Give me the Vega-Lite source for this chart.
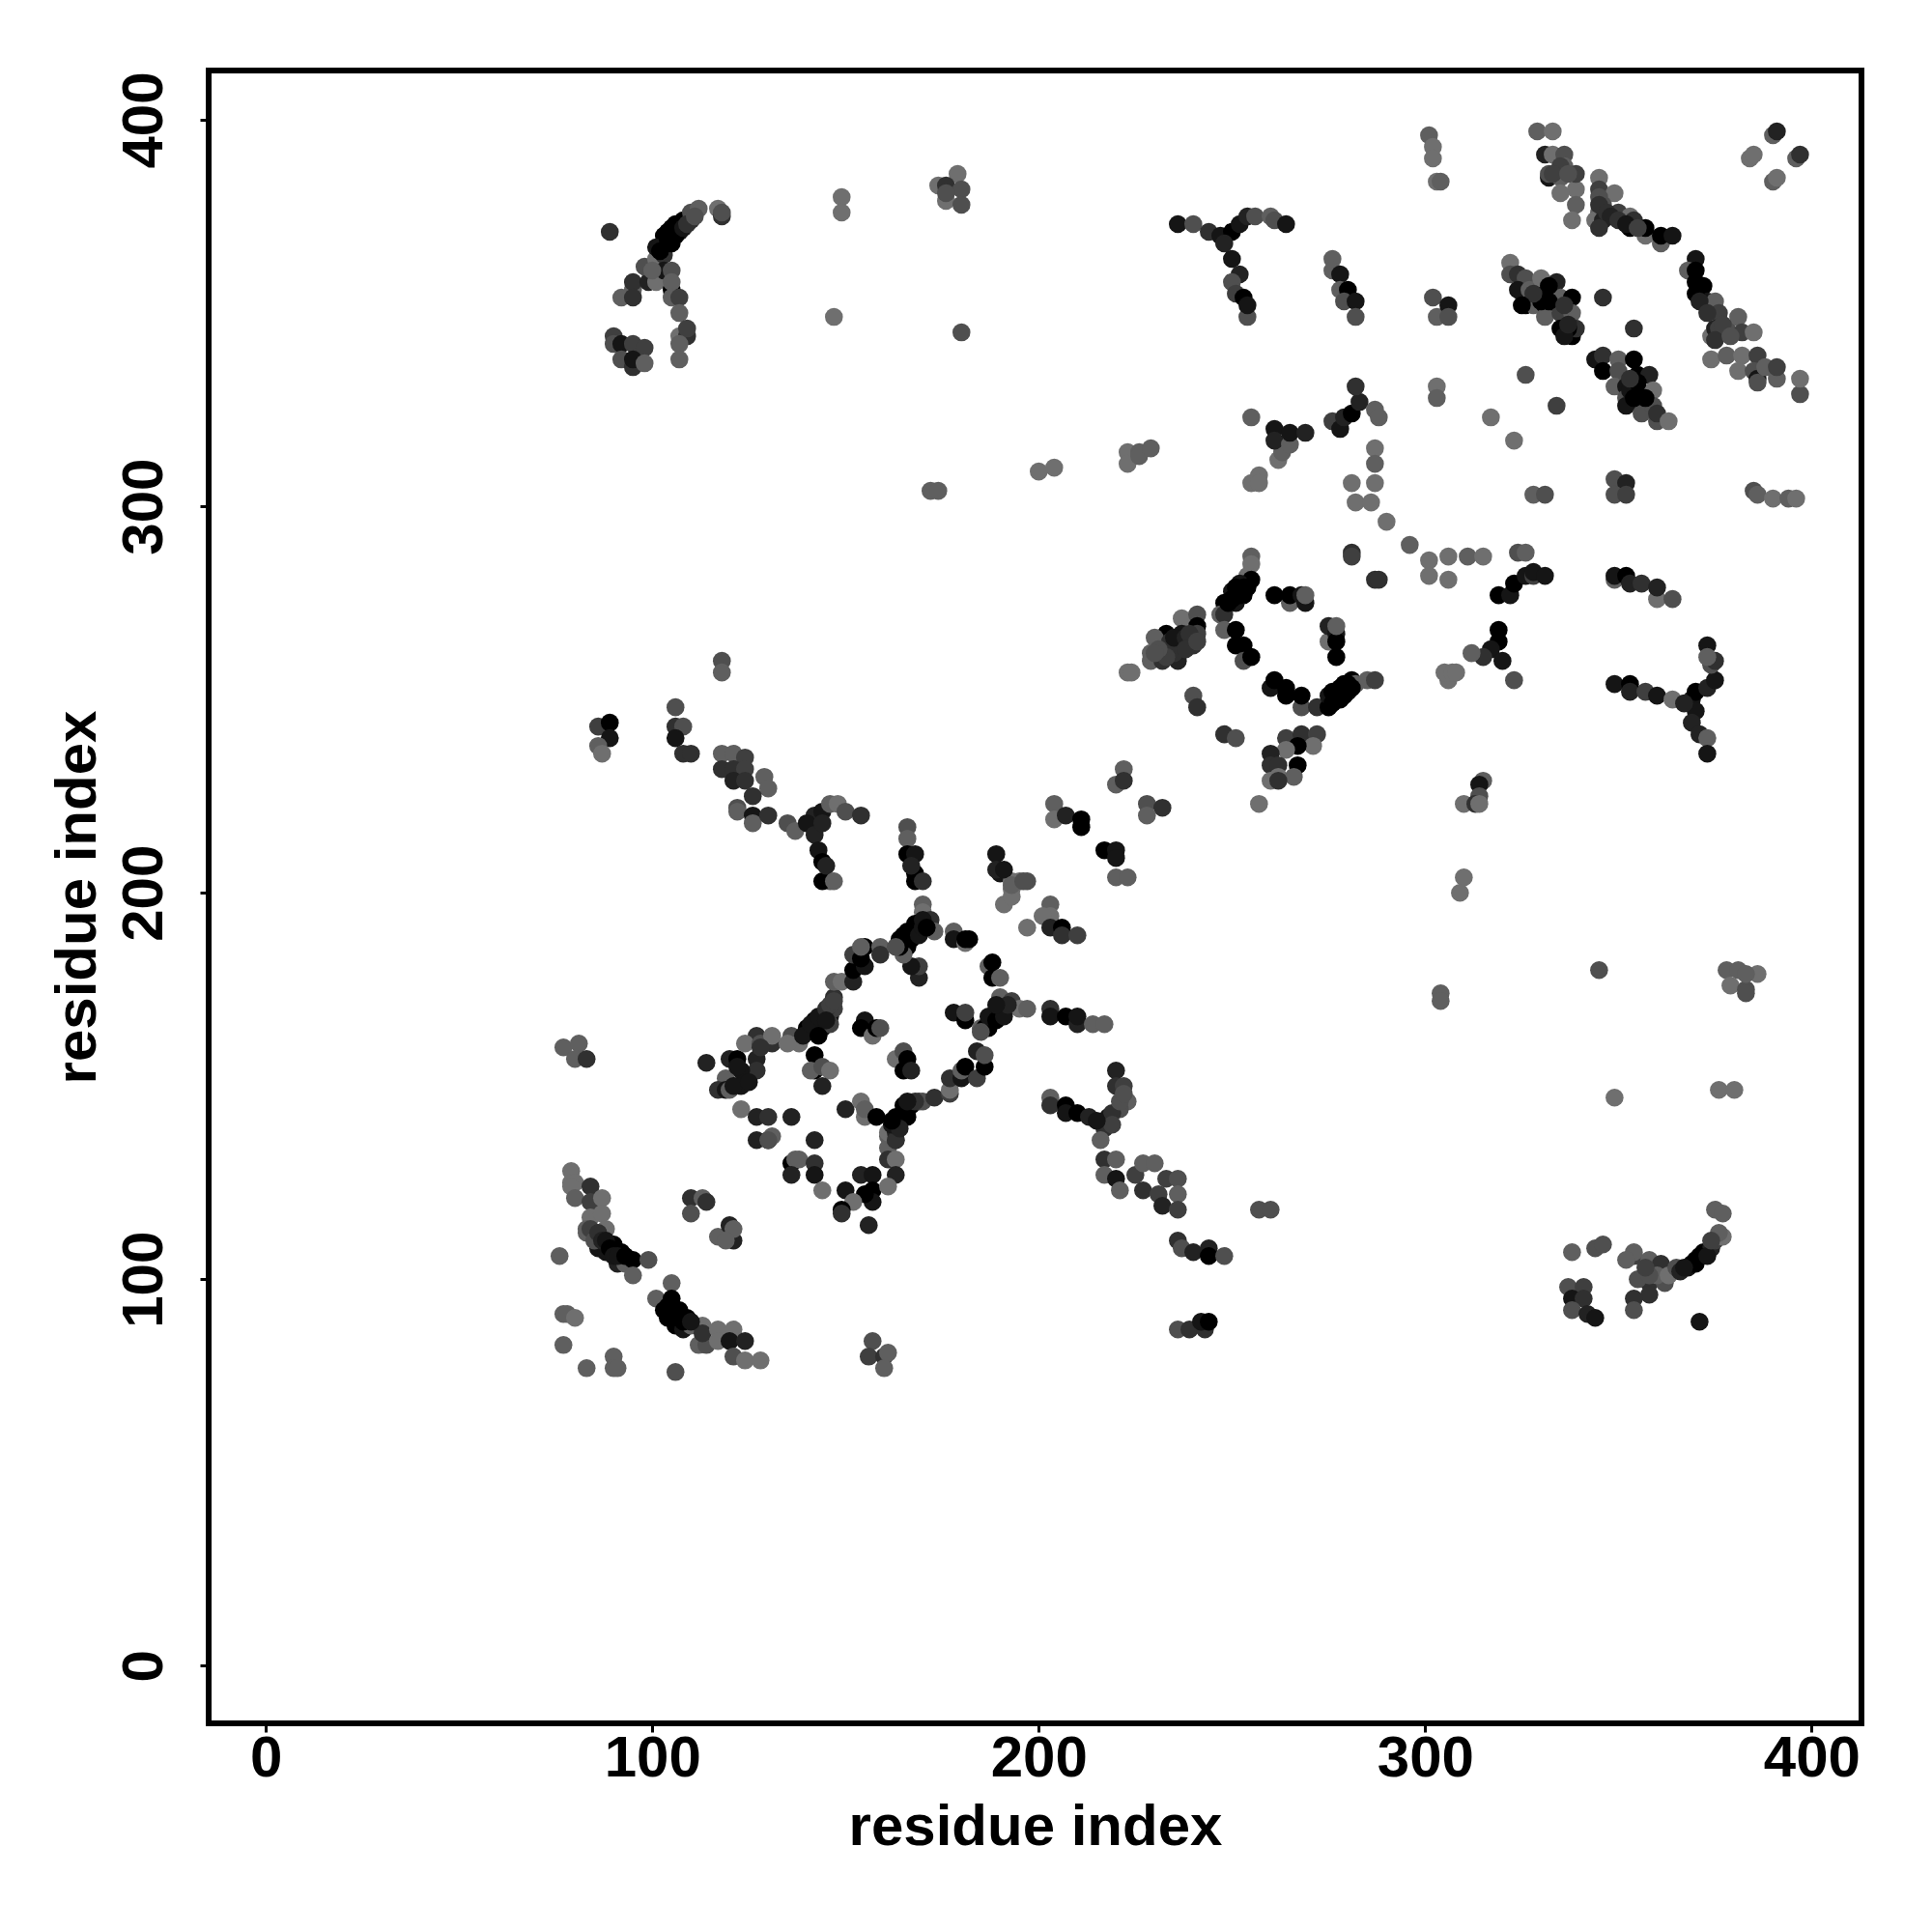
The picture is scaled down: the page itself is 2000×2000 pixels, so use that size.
{"$schema":"https://vega.github.io/schema/vega-lite/v6.json","width":1711,"height":1711,"autosize":"none","padding":{"left":216,"top":73,"right":73,"bottom":216},"background":"white","config":{"view":{"stroke":"black","strokeWidth":6,"fill":null}},
"data":{"values":[
{"x":76,"y":106,"s":6},{"x":79,"y":128,"s":7},{"x":79,"y":125,"s":7},{"x":80,"y":125,"s":7},{"x":79,"y":124,"s":7},{"x":80,"y":121,"s":6},{"x":84,"y":124,"s":3},{"x":84,"y":120,"s":4},{"x":87,"y":121,"s":7},{"x":84,"y":116,"s":7},{"x":87,"y":117,"s":7},{"x":83,"y":113,"s":6},{"x":83,"y":112,"s":6},{"x":84,"y":113,"s":4},{"x":88,"y":113,"s":7},{"x":86,"y":108,"s":1},{"x":88,"y":107,"s":1},{"x":90,"y":109,"s":0},{"x":92,"y":107,"s":0},{"x":91,"y":104,"s":2},{"x":93,"y":104,"s":6},{"x":95,"y":105,"s":0},{"x":95,"y":101,"s":6},{"x":99,"y":105,"s":5},
{"x":105,"y":99,"s":6},{"x":101,"y":95,"s":6},{"x":105,"y":95,"s":0},{"x":107,"y":92,"s":0},{"x":109,"y":90,"s":0},{"x":104,"y":90,"s":0},{"x":106,"y":88,"s":0},{"x":108,"y":87,"s":1},{"x":110,"y":88,"s":6},{"x":113,"y":88,"s":7},{"x":112,"y":83,"s":6},{"x":114,"y":83,"s":5},{"x":113,"y":86,"s":3},{"x":117,"y":87,"s":7},{"x":117,"y":84,"s":7},{"x":121,"y":87,"s":7},{"x":120,"y":84,"s":1},{"x":124,"y":84,"s":2},{"x":121,"y":80,"s":5},{"x":124,"y":79,"s":7},{"x":128,"y":79,"s":7},{"x":77,"y":91,"s":6},{"x":78,"y":91,"s":6},{"x":80,"y":90,"s":7},{"x":77,"y":83,"s":6},{"x":83,"y":77,"s":6},{"x":90,"y":80,"s":6},{"x":90,"y":77,"s":6},{"x":91,"y":77,"s":6},{"x":106,"y":76,"s":5},
{"x":157,"y":84,"s":5},{"x":156,"y":80,"s":4},{"x":160,"y":80,"s":3},{"x":161,"y":81,"s":6},{"x":160,"y":77,"s":6},
{"x":110,"y":121,"s":3},{"x":113,"y":121,"s":6},{"x":114,"y":120,"s":3},{"x":110,"y":117,"s":5},{"x":117,"y":111,"s":6},{"x":121,"y":110,"s":2},{"x":120,"y":114,"s":2},{"x":121,"y":113,"s":6},{"x":119,"y":110,"s":6},
{"x":127,"y":136,"s":2},{"x":130,"y":136,"s":0},{"x":131,"y":137,"s":6},{"x":136,"y":142,"s":2},{"x":142,"y":136,"s":2},{"x":136,"y":130,"s":0},{"x":137,"y":131,"s":6},{"x":138,"y":131,"s":6},{"x":136,"y":127,"s":2},{"x":142,"y":130,"s":3},{"x":142,"y":127,"s":1},{"x":144,"y":123,"s":7},{"x":150,"y":123,"s":1},{"x":154,"y":127,"s":2},{"x":157,"y":127,"s":1},{"x":157,"y":123,"s":0},{"x":157,"y":120,"s":1},{"x":155,"y":122,"s":0},{"x":152,"y":120,"s":7},{"x":149,"y":118,"s":0},{"x":149,"y":117,"s":3},{"x":156,"y":114,"s":2},{"x":161,"y":137,"s":6},{"x":161,"y":134,"s":6},{"x":161,"y":131,"s":3},{"x":163,"y":131,"s":7},{"x":163,"y":127,"s":2},{"x":161,"y":124,"s":7},{"x":163,"y":136,"s":3},{"x":163,"y":140,"s":1},{"x":166,"y":142,"s":0},
{"x":114,"y":156,"s":2},{"x":120,"y":157,"s":2},{"x":122,"y":157,"s":0},{"x":127,"y":163,"s":3},{"x":124,"y":161,"s":7},{"x":128,"y":161,"s":5},{"x":131,"y":161,"s":3},{"x":131,"y":163,"s":7},{"x":127,"y":157,"s":2},{"x":127,"y":154,"s":3},{"x":123,"y":154,"s":1},{"x":119,"y":152,"s":6},{"x":117,"y":149,"s":3},{"x":119,"y":149,"s":1},{"x":123,"y":150,"s":1},{"x":120,"y":149,"s":6},{"x":121,"y":150,"s":1},{"x":123,"y":144,"s":7},{"x":127,"y":142,"s":2},{"x":130,"y":142,"s":3},{"x":130,"y":136,"s":5},
{"x":136,"y":163,"s":5},{"x":138,"y":161,"s":7},{"x":135,"y":161,"s":7},{"x":140,"y":164,"s":1},{"x":142,"y":158,"s":0},{"x":142,"y":154,"s":0},{"x":141,"y":154,"s":6},{"x":144,"y":155,"s":5},{"x":146,"y":154,"s":7},{"x":144,"y":150,"s":2},
{"x":142,"y":164,"s":0},{"x":140,"y":165,"s":0},{"x":142,"y":167,"s":0},{"x":144,"y":165,"s":1},{"x":144,"y":168,"s":0},{"x":145,"y":169,"s":1},{"x":146,"y":168,"s":1},{"x":147,"y":170,"s":4},{"x":147,"y":173,"s":3},{"x":147,"y":177,"s":6},{"x":149,"y":177,"s":7},{"x":152,"y":177,"s":2},{"x":152,"y":180,"s":0},{"x":155,"y":181,"s":1},{"x":152,"y":184,"s":4},{"x":154,"y":183,"s":0},{"x":155,"y":186,"s":0},{"x":154,"y":186,"s":6},{"x":159,"y":186,"s":6},{"x":159,"y":184,"s":3},
{"x":155,"y":167,"s":1},{"x":154,"y":165,"s":0},{"x":157,"y":163,"s":7},{"x":158,"y":165,"s":0},{"x":159,"y":165,"s":5},{"x":163,"y":157,"s":7},{"x":165,"y":159,"s":5},{"x":166,"y":157,"s":0},{"x":165,"y":154,"s":0},{"x":167,"y":154,"s":2},
{"x":150,"y":144,"s":2},{"x":154,"y":146,"s":7},{"x":155,"y":142,"s":7},{"x":155,"y":144,"s":6},{"x":158,"y":142,"s":0},{"x":161,"y":138,"s":7},{"x":163,"y":138,"s":2},{"x":163,"y":136,"s":3},{"x":163,"y":140,"s":0},{"x":164,"y":142,"s":0},{"x":165,"y":143,"s":0},{"x":167,"y":145,"s":0},{"x":169,"y":146,"s":4},{"x":170,"y":146,"s":5},{"x":173,"y":147,"s":3},{"x":177,"y":148,"s":4},{"x":177,"y":149,"s":7},{"x":177,"y":152,"s":3},{"x":180,"y":152,"s":1},{"x":180,"y":154,"s":6},{"x":181,"y":155,"s":0},{"x":184,"y":152,"s":4},{"x":184,"y":159,"s":2},{"x":186,"y":155,"s":0},{"x":186,"y":158,"s":5},
{"x":169,"y":178,"s":2},{"x":169,"y":181,"s":4},{"x":167,"y":181,"s":1},{"x":170,"y":197,"s":6},{"x":170,"y":195,"s":7},{"x":172,"y":193,"s":3},{"x":173,"y":190,"s":6},{"x":168,"y":192,"s":0},{"x":166,"y":190,"s":0},{"x":168,"y":189,"s":0},{"x":164,"y":188,"s":0},{"x":166,"y":186,"s":0},{"x":165,"y":184,"s":6},
{"x":178,"y":190,"s":6},{"x":178,"y":188,"s":1},{"x":181,"y":187,"s":7},{"x":181,"y":188,"s":0},{"x":182,"y":188,"s":0},{"x":187,"y":181,"s":6},{"x":188,"y":182,"s":0},{"x":188,"y":178,"s":0},{"x":190,"y":178,"s":6},{"x":178,"y":169,"s":1},{"x":181,"y":167,"s":0},{"x":181,"y":169,"s":4},
{"x":190,"y":173,"s":6},{"x":193,"y":172,"s":4},{"x":191,"y":170,"s":1},{"x":190,"y":169,"s":1},{"x":188,"y":167,"s":0},{"x":185,"y":165,"s":6},{"x":186,"y":165,"s":0},{"x":195,"y":170,"s":7},{"x":197,"y":170,"s":6},
{"x":203,"y":170,"s":3},{"x":203,"y":168,"s":1},{"x":207,"y":168,"s":0},{"x":210,"y":166,"s":2},{"x":210,"y":168,"s":1},{"x":214,"y":166,"s":6},{"x":217,"y":166,"s":6},{"x":203,"y":147,"s":6},{"x":203,"y":145,"s":3},{"x":207,"y":145,"s":0},{"x":207,"y":143,"s":1},{"x":210,"y":143,"s":0},
{"x":146,"y":203,"s":6},{"x":144,"y":203,"s":0},{"x":168,"y":203,"s":0},{"x":168,"y":205,"s":0},{"x":170,"y":203,"s":3},{"x":190,"y":205,"s":1},{"x":193,"y":201,"s":7},{"x":193,"y":203,"s":7},{"x":195,"y":203,"s":7},{"x":197,"y":203,"s":5},{"x":191,"y":197,"s":7},{"x":203,"y":197,"s":6},{"x":203,"y":194,"s":7},{"x":201,"y":194,"s":7},{"x":197,"y":191,"s":7},{"x":203,"y":191,"s":2},{"x":206,"y":191,"s":0},{"x":206,"y":189,"s":3},{"x":210,"y":189,"s":4},
{"x":220,"y":154,"s":2},{"x":220,"y":150,"s":3},{"x":222,"y":150,"s":4},{"x":223,"y":146,"s":6},{"x":221,"y":144,"s":5},{"x":218,"y":142,"s":1},{"x":217,"y":139,"s":3},{"x":213,"y":142,"s":2},{"x":216,"y":136,"s":6},{"x":217,"y":131,"s":3},{"x":220,"y":131,"s":6},{"x":217,"y":127,"s":6},{"x":220,"y":126,"s":1},{"x":221,"y":123,"s":6},{"x":225,"y":127,"s":4},{"x":227,"y":130,"s":6},{"x":230,"y":130,"s":6},{"x":227,"y":123,"s":3},{"x":231,"y":122,"s":4},{"x":233,"y":126,"s":4},{"x":236,"y":126,"s":5},{"x":236,"y":122,"s":6},{"x":232,"y":119,"s":2},{"x":236,"y":118,"s":4},{"x":236,"y":110,"s":3},{"x":237,"y":108,"s":5},{"x":240,"y":107,"s":2},{"x":244,"y":108,"s":2},{"x":244,"y":106,"s":0},{"x":248,"y":106,"s":5},{"x":236,"y":87,"s":5},{"x":239,"y":87,"s":3},{"x":243,"y":87,"s":3},{"x":242,"y":89,"s":1},{"x":244,"y":89,"s":0},{"x":257,"y":118,"s":5},{"x":260,"y":118,"s":5},
{"x":189,"y":210,"s":1},{"x":189,"y":206,"s":2},{"x":191,"y":206,"s":1},{"x":193,"y":199,"s":7},{"x":193,"y":202,"s":6},{"x":196,"y":203,"s":5},{"x":204,"y":223,"s":6},{"x":204,"y":219,"s":7},{"x":207,"y":220,"s":2},{"x":211,"y":219,"s":0},{"x":211,"y":217,"s":0},{"x":217,"y":211,"s":0},{"x":220,"y":211,"s":1},{"x":220,"y":209,"s":1},{"x":220,"y":204,"s":6},{"x":223,"y":204,"s":6},{"x":220,"y":228,"s":6},{"x":222,"y":232,"s":6},{"x":222,"y":229,"s":3},{"x":228,"y":223,"s":5},{"x":232,"y":222,"s":3},{"x":228,"y":220,"s":6},
{"x":118,"y":260,"s":5},{"x":118,"y":257,"s":6},{"x":106,"y":248,"s":5},{"x":106,"y":243,"s":3},{"x":108,"y":243,"s":5},{"x":106,"y":240,"s":1},{"x":108,"y":236,"s":3},{"x":110,"y":236,"s":3},{"x":86,"y":243,"s":4},{"x":89,"y":244,"s":0},{"x":89,"y":240,"s":1},{"x":86,"y":238,"s":6},{"x":87,"y":236,"s":7},
{"x":118,"y":236,"s":6},{"x":121,"y":236,"s":6},{"x":124,"y":235,"s":4},{"x":118,"y":232,"s":3},{"x":121,"y":232,"s":3},{"x":124,"y":232,"s":4},{"x":121,"y":229,"s":2},{"x":124,"y":229,"s":3},{"x":129,"y":230,"s":6},{"x":130,"y":227,"s":6},{"x":126,"y":225,"s":3},{"x":122,"y":222,"s":5},{"x":122,"y":221,"s":6},{"x":126,"y":220,"s":1},{"x":126,"y":218,"s":6},{"x":130,"y":220,"s":3},{"x":135,"y":218,"s":5},{"x":137,"y":216,"s":6},{"x":142,"y":220,"s":2},{"x":144,"y":221,"s":1},{"x":146,"y":223,"s":6},{"x":148,"y":223,"s":7},{"x":150,"y":221,"s":5},{"x":154,"y":220,"s":3},{"x":140,"y":218,"s":1},{"x":142,"y":215,"s":2},{"x":144,"y":218,"s":2},{"x":143,"y":211,"s":1},{"x":144,"y":208,"s":0},{"x":145,"y":207,"s":2},{"x":147,"y":203,"s":6},
{"x":166,"y":217,"s":5},{"x":166,"y":214,"s":6},{"x":166,"y":210,"s":0},{"x":168,"y":210,"s":1},{"x":167,"y":207,"s":2},
{"x":255,"y":287,"s":6},{"x":255,"y":285,"s":7},{"x":254,"y":282,"s":7},{"x":255,"y":281,"s":0},{"x":252,"y":280,"s":1},{"x":250,"y":278,"s":1},{"x":253,"y":277,"s":0},{"x":248,"y":275,"s":0},{"x":251,"y":275,"s":1},{"x":247,"y":272,"s":6},{"x":248,"y":272,"s":3},{"x":248,"y":268,"s":6},{"x":251,"y":268,"s":0},{"x":251,"y":264,"s":0},{"x":253,"y":264,"s":0},{"x":253,"y":260,"s":5},{"x":255,"y":261,"s":0},
{"x":265,"y":275,"s":6},{"x":261,"y":277,"s":0},{"x":265,"y":277,"s":0},{"x":269,"y":275,"s":1},{"x":268,"y":277,"s":1},{"x":269,"y":277,"s":6},{"x":275,"y":265,"s":7},{"x":275,"y":269,"s":2},{"x":277,"y":267,"s":1},{"x":277,"y":265,"s":0},{"x":277,"y":261,"s":0},{"x":277,"y":269,"s":6},
{"x":260,"y":253,"s":1},{"x":261,"y":255,"s":0},{"x":264,"y":253,"s":0},{"x":264,"y":251,"s":0},{"x":268,"y":248,"s":5},{"x":268,"y":251,"s":0},{"x":272,"y":248,"s":3},{"x":275,"y":248,"s":0},{"x":275,"y":251,"s":1},{"x":277,"y":252,"s":0},{"x":278,"y":250,"s":0},{"x":280,"y":252,"s":1},{"x":281,"y":255,"s":0},{"x":282,"y":254,"s":6},{"x":285,"y":255,"s":6},{"x":287,"y":255,"s":4},
{"x":281,"y":288,"s":3},{"x":281,"y":287,"s":4},{"x":287,"y":281,"s":3},{"x":288,"y":281,"s":3},{"x":296,"y":290,"s":6},{"x":290,"y":296,"s":7},{"x":301,"y":286,"s":7},{"x":301,"y":282,"s":7},{"x":306,"y":287,"s":7},{"x":311,"y":287,"s":6},{"x":315,"y":287,"s":7},{"x":306,"y":281,"s":7},
{"x":223,"y":257,"s":7},{"x":224,"y":257,"s":7},{"x":237,"y":271,"s":7},{"x":241,"y":272,"s":5},{"x":241,"y":269,"s":0},{"x":241,"y":267,"s":4},{"x":237,"y":267,"s":1},{"x":233,"y":267,"s":0},{"x":230,"y":266,"s":6},{"x":236,"y":264,"s":6},{"x":240,"y":264,"s":3},{"x":233,"y":263,"s":2},{"x":229,"y":262,"s":6},{"x":229,"y":260,"s":6},{"x":232,"y":260,"s":3},{"x":236,"y":260,"s":2},
{"x":240,"y":251,"s":5},{"x":241,"y":248,"s":3},{"x":248,"y":241,"s":3},{"x":251,"y":240,"s":5},{"x":264,"y":240,"s":4},{"x":268,"y":241,"s":3},{"x":272,"y":241,"s":4},{"x":271,"y":238,"s":7},{"x":267,"y":238,"s":0},{"x":264,"y":237,"s":7},{"x":260,"y":236,"s":2},{"x":267,"y":233,"s":0},{"x":260,"y":233,"s":3},{"x":262,"y":233,"s":3},{"x":260,"y":229,"s":7},{"x":262,"y":230,"s":7},{"x":266,"y":230,"s":6},{"x":262,"y":229,"s":3},{"x":257,"y":223,"s":7},
{"x":315,"y":229,"s":6},{"x":314,"y":228,"s":1},{"x":314,"y":225,"s":5},{"x":310,"y":223,"s":7},{"x":313,"y":223,"s":3},{"x":314,"y":223,"s":7},{"x":306,"y":255,"s":7},{"x":305,"y":257,"s":7},{"x":307,"y":257,"s":7},{"x":308,"y":257,"s":7},
{"x":310,"y":204,"s":7},{"x":309,"y":200,"s":7},{"x":304,"y":174,"s":6},{"x":304,"y":172,"s":6},{"x":345,"y":180,"s":5},{"x":349,"y":147,"s":7},{"x":376,"y":149,"s":7},{"x":380,"y":149,"s":7},{"x":378,"y":180,"s":6},{"x":381,"y":180,"s":6},{"x":379,"y":176,"s":7},{"x":383,"y":175,"s":5},{"x":386,"y":179,"s":7},{"x":383,"y":179,"s":6},{"x":383,"y":174,"s":5},
{"x":349,"y":254,"s":1},{"x":353,"y":254,"s":0},{"x":353,"y":252,"s":2},{"x":357,"y":252,"s":4},{"x":360,"y":251,"s":1},{"x":364,"y":250,"s":7},{"x":369,"y":250,"s":1},{"x":370,"y":252,"s":0},{"x":373,"y":253,"s":2},{"x":375,"y":255,"s":1},{"x":374,"y":259,"s":5},{"x":375,"y":260,"s":3},{"x":373,"y":264,"s":1},{"x":373,"y":261,"s":6},{"x":370,"y":247,"s":1},{"x":367,"y":249,"s":2},{"x":369,"y":244,"s":2},{"x":371,"y":241,"s":2},{"x":373,"y":240,"s":6},{"x":373,"y":236,"s":1},
{"x":349,"y":281,"s":6},{"x":349,"y":282,"s":1},{"x":352,"y":282,"s":0},{"x":353,"y":280,"s":2},{"x":356,"y":280,"s":3},{"x":360,"y":276,"s":7},{"x":360,"y":279,"s":2},{"x":364,"y":276,"s":5},
{"x":319,"y":277,"s":0},{"x":322,"y":277,"s":1},{"x":323,"y":280,"s":0},{"x":326,"y":282,"s":1},{"x":328,"y":282,"s":4},{"x":328,"y":283,"s":1},{"x":331,"y":282,"s":1},{"x":324,"y":288,"s":5},{"x":326,"y":288,"s":6},{"x":319,"y":268,"s":0},{"x":319,"y":265,"s":0},{"x":317,"y":263,"s":1},{"x":320,"y":260,"s":1},{"x":315,"y":261,"s":3},{"x":312,"y":262,"s":6},{"x":323,"y":255,"s":5},
{"x":328,"y":303,"s":6},{"x":331,"y":303,"s":5},{"x":349,"y":307,"s":5},{"x":352,"y":306,"s":2},{"x":349,"y":303,"s":5},{"x":352,"y":303,"s":4},{"x":385,"y":304,"s":5},{"x":386,"y":303,"s":6},{"x":390,"y":302,"s":7},{"x":394,"y":302,"s":6},{"x":396,"y":302,"s":7},
{"x":172,"y":304,"s":6},{"x":174,"y":304,"s":6},{"x":200,"y":309,"s":7},{"x":204,"y":310,"s":7},{"x":223,"y":314,"s":7},{"x":226,"y":314,"s":6},{"x":223,"y":311,"s":7},{"x":226,"y":313,"s":6},{"x":229,"y":315,"s":6},{"x":255,"y":323,"s":6},{"x":255,"y":306,"s":7},{"x":257,"y":308,"s":7},{"x":257,"y":306,"s":7},
{"x":262,"y":312,"s":7},{"x":263,"y":314,"s":6},{"x":261,"y":320,"s":1},{"x":261,"y":317,"s":2},{"x":265,"y":316,"s":6},{"x":265,"y":319,"s":1},{"x":269,"y":319,"s":2},{"x":276,"y":322,"s":4},{"x":278,"y":320,"s":1},{"x":279,"y":323,"s":2},{"x":281,"y":324,"s":0},{"x":283,"y":327,"s":2},{"x":282,"y":331,"s":3},{"x":287,"y":325,"s":6},{"x":288,"y":323,"s":6},
{"x":287,"y":315,"s":7},{"x":287,"y":311,"s":6},{"x":287,"y":306,"s":7},{"x":281,"y":306,"s":7},{"x":282,"y":301,"s":7},{"x":286,"y":301,"s":7},{"x":303,"y":331,"s":7},{"x":303,"y":328,"s":6},
{"x":329,"y":397,"s":6},{"x":333,"y":397,"s":7},{"x":331,"y":391,"s":2},{"x":333,"y":391,"s":7},{"x":336,"y":391,"s":5},{"x":336,"y":388,"s":6},{"x":332,"y":385,"s":1},{"x":332,"y":386,"s":5},{"x":335,"y":385,"s":6},{"x":339,"y":382,"s":7},{"x":339,"y":386,"s":4},{"x":335,"y":381,"s":7},{"x":339,"y":378,"s":6},{"x":338,"y":374,"s":7},
{"x":345,"y":385,"s":7},{"x":345,"y":382,"s":4},{"x":349,"y":381,"s":7},{"x":346,"y":378,"s":5},{"x":345,"y":376,"s":6},{"x":344,"y":374,"s":7},{"x":346,"y":374,"s":2},{"x":350,"y":376,"s":4},{"x":353,"y":372,"s":0},{"x":353,"y":375,"s":7},{"x":354,"y":374,"s":3},{"x":357,"y":370,"s":7},{"x":357,"y":372,"s":0},{"x":361,"y":368,"s":6},{"x":361,"y":370,"s":0},{"x":364,"y":370,"s":1},
{"x":370,"y":364,"s":1},{"x":368,"y":361,"s":6},{"x":370,"y":361,"s":0},{"x":370,"y":358,"s":0},{"x":372,"y":357,"s":0},{"x":373,"y":353,"s":1},{"x":375,"y":353,"s":6},{"x":376,"y":350,"s":4},{"x":374,"y":344,"s":7},{"x":375,"y":346,"s":2},{"x":378,"y":346,"s":5},{"x":381,"y":349,"s":6},{"x":382,"y":345,"s":4},{"x":385,"y":345,"s":7},
{"x":374,"y":338,"s":7},{"x":378,"y":339,"s":6},{"x":382,"y":339,"s":7},{"x":386,"y":339,"s":4},{"x":381,"y":335,"s":7},{"x":385,"y":335,"s":5},{"x":386,"y":333,"s":1},{"x":386,"y":332,"s":5},{"x":388,"y":336,"s":6},{"x":391,"y":333,"s":6},{"x":391,"y":336,"s":4},{"x":397,"y":329,"s":5},{"x":397,"y":333,"s":7},
{"x":390,"y":396,"s":6},{"x":391,"y":397,"s":2},{"x":384,"y":390,"s":7},{"x":385,"y":391,"s":7},{"x":396,"y":390,"s":6},{"x":397,"y":391,"s":3},{"x":390,"y":384,"s":6},{"x":391,"y":385,"s":7},
{"x":322,"y":363,"s":7},{"x":322,"y":360,"s":5},{"x":324,"y":360,"s":3},{"x":326,"y":359,"s":5},{"x":324,"y":356,"s":1},{"x":327,"y":356,"s":6},{"x":326,"y":352,"s":0},{"x":328,"y":352,"s":6},{"x":330,"y":355,"s":0},{"x":330,"y":359,"s":7},{"x":331,"y":352,"s":0},{"x":331,"y":349,"s":6},{"x":334,"y":358,"s":2},{"x":334,"y":354,"s":0},{"x":335,"y":354,"s":6},{"x":338,"y":354,"s":0},{"x":335,"y":350,"s":4},{"x":338,"y":350,"s":6},{"x":335,"y":346,"s":0},{"x":338,"y":344,"s":0},{"x":339,"y":346,"s":3},
{"x":346,"y":354,"s":3},{"x":354,"y":346,"s":3},{"x":326,"y":334,"s":5},{"x":334,"y":326,"s":4},{"x":317,"y":323,"s":7},{"x":323,"y":317,"s":7},
{"x":344,"y":338,"s":1},{"x":346,"y":339,"s":3},{"x":346,"y":335,"s":0},{"x":350,"y":338,"s":6},{"x":354,"y":338,"s":0},{"x":350,"y":335,"s":5},{"x":349,"y":331,"s":6},{"x":355,"y":334,"s":0},{"x":358,"y":334,"s":2},{"x":352,"y":331,"s":1},{"x":355,"y":330,"s":0},{"x":359,"y":330,"s":7},{"x":352,"y":328,"s":5},{"x":352,"y":326,"s":1},{"x":356,"y":326,"s":1},{"x":356,"y":324,"s":5},{"x":359,"y":326,"s":5},{"x":360,"y":322,"s":5},{"x":360,"y":324,"s":3},{"x":363,"y":322,"s":7},
{"x":302,"y":354,"s":5},{"x":303,"y":349,"s":6},{"x":306,"y":352,"s":1},{"x":306,"y":349,"s":5},{"x":301,"y":396,"s":6},{"x":302,"y":393,"s":7},{"x":302,"y":390,"s":7},{"x":303,"y":384,"s":7},{"x":304,"y":384,"s":6},
{"x":276,"y":364,"s":6},{"x":276,"y":361,"s":6},{"x":278,"y":360,"s":1},{"x":278,"y":356,"s":6},{"x":280,"y":356,"s":0},{"x":279,"y":353,"s":5},{"x":282,"y":353,"s":1},{"x":282,"y":349,"s":5},
{"x":236,"y":373,"s":1},{"x":240,"y":373,"s":5},{"x":244,"y":371,"s":3},{"x":247,"y":370,"s":1},{"x":250,"y":371,"s":0},{"x":252,"y":373,"s":1},{"x":254,"y":375,"s":2},{"x":256,"y":375,"s":5},{"x":260,"y":375,"s":6},{"x":261,"y":374,"s":5},{"x":264,"y":373,"s":1},{"x":248,"y":368,"s":2},{"x":250,"y":364,"s":1},{"x":252,"y":360,"s":2},{"x":250,"y":358,"s":5},{"x":251,"y":355,"s":4},{"x":253,"y":354,"s":0},{"x":254,"y":349,"s":5},{"x":254,"y":352,"s":1},
{"x":89,"y":371,"s":3},{"x":95,"y":356,"s":6},{"x":95,"y":358,"s":3},{"x":92,"y":354,"s":6},{"x":95,"y":354,"s":3},{"x":99,"y":358,"s":2},{"x":101,"y":358,"s":7},{"x":98,"y":362,"s":5},{"x":101,"y":364,"s":7},{"x":103,"y":365,"s":3},{"x":103,"y":361,"s":1},{"x":105,"y":361,"s":5},{"x":105,"y":356,"s":0},{"x":105,"y":358,"s":6},{"x":105,"y":354,"s":6},{"x":107,"y":354,"s":4},{"x":107,"y":350,"s":6},{"x":107,"y":344,"s":7},{"x":109,"y":344,"s":3},{"x":109,"y":346,"s":4},{"x":107,"y":342,"s":6},{"x":107,"y":338,"s":6},
{"x":103,"y":370,"s":0},{"x":103,"y":368,"s":0},{"x":105,"y":368,"s":0},{"x":105,"y":372,"s":0},{"x":107,"y":371,"s":1},{"x":108,"y":374,"s":0},{"x":110,"y":374,"s":3},{"x":110,"y":376,"s":5},{"x":112,"y":377,"s":6},{"x":117,"y":377,"s":7},{"x":118,"y":375,"s":3},{"x":118,"y":376,"s":5},
{"x":90,"y":344,"s":4},{"x":90,"y":342,"s":5},{"x":92,"y":342,"s":1},{"x":95,"y":342,"s":4},{"x":98,"y":341,"s":4},{"x":92,"y":338,"s":5},{"x":95,"y":336,"s":3},{"x":95,"y":338,"s":1},{"x":98,"y":337,"s":6},
{"x":149,"y":380,"s":7},{"x":149,"y":376,"s":7},{"x":147,"y":349,"s":7},{"x":180,"y":345,"s":5},{"x":179,"y":386,"s":7},{"x":174,"y":383,"s":7},{"x":176,"y":379,"s":7},{"x":176,"y":383,"s":3},{"x":180,"y":382,"s":5},{"x":180,"y":378,"s":5},{"x":176,"y":381,"s":5},
{"x":338,"y":107,"s":6},{"x":344,"y":108,"s":5},{"x":346,"y":109,"s":5},{"x":354,"y":106,"s":4},{"x":354,"y":107,"s":6},{"x":358,"y":105,"s":6},{"x":361,"y":104,"s":3},{"x":358,"y":99,"s":3},{"x":362,"y":99,"s":5},{"x":358,"y":96,"s":3},{"x":354,"y":95,"s":3},{"x":354,"y":92,"s":5},{"x":360,"y":101,"s":6},{"x":363,"y":101,"s":7},{"x":365,"y":103,"s":5},{"x":368,"y":103,"s":1},{"x":370,"y":104,"s":0},{"x":370,"y":105,"s":0},{"x":372,"y":107,"s":0},{"x":374,"y":108,"s":2},{"x":375,"y":110,"s":4},{"x":376,"y":111,"s":5},{"x":377,"y":111,"s":7},{"x":375,"y":118,"s":6},{"x":377,"y":117,"s":6},{"x":376,"y":112,"s":6},
{"x":337,"y":98,"s":5},{"x":341,"y":98,"s":4},{"x":338,"y":95,"s":1},{"x":341,"y":95,"s":3},{"x":338,"y":92,"s":5},{"x":342,"y":91,"s":2},{"x":344,"y":90,"s":1},{"x":371,"y":89,"s":1},
{"x":77,"y":160,"s":6},{"x":81,"y":161,"s":6},{"x":80,"y":157,"s":6},{"x":83,"y":157,"s":3},
{"x":139,"y":163,"s":1},{"x":141,"y":166,"s":1},{"x":143,"y":168,"s":1},{"x":145,"y":170,"s":3},{"x":146,"y":171,"s":4},{"x":147,"y":172,"s":4},{"x":146,"y":166,"s":4},{"x":145,"y":167,"s":1},{"x":143,"y":163,"s":0},
{"x":162,"y":140,"s":1},{"x":163,"y":142,"s":0},{"x":165,"y":145,"s":0},{"x":166,"y":144,"s":0},{"x":168,"y":146,"s":3},{"x":164,"y":139,"s":2},{"x":162,"y":141,"s":0},{"x":166,"y":146,"s":1},
{"x":187,"y":165,"s":0},{"x":187,"y":168,"s":1},{"x":189,"y":167,"s":0},{"x":190,"y":170,"s":0},{"x":191,"y":168,"s":1},{"x":192,"y":171,"s":2},{"x":189,"y":171,"s":1},{"x":185,"y":164,"s":5},
{"x":164,"y":186,"s":0},{"x":165,"y":189,"s":0},{"x":167,"y":188,"s":0},{"x":168,"y":190,"s":0},{"x":169,"y":189,"s":1},{"x":170,"y":191,"s":1},{"x":170,"y":193,"s":1},{"x":171,"y":191,"s":0},{"x":163,"y":186,"s":5},
{"x":249,"y":275,"s":0},{"x":250,"y":276,"s":0},{"x":251,"y":279,"s":0},{"x":252,"y":277,"s":0},{"x":253,"y":279,"s":0},{"x":254,"y":279,"s":0},
{"x":276,"y":249,"s":0},{"x":276,"y":252,"s":0},{"x":278,"y":253,"s":0},{"x":279,"y":254,"s":0},{"x":279,"y":251,"s":0},{"x":280,"y":254,"s":0},{"x":281,"y":253,"s":0},
{"x":100,"y":361,"s":6},{"x":101,"y":367,"s":1},{"x":102,"y":366,"s":0},{"x":104,"y":369,"s":0},{"x":104,"y":371,"s":0},{"x":106,"y":370,"s":0},{"x":106,"y":373,"s":0},{"x":108,"y":372,"s":1},{"x":109,"y":373,"s":3},{"x":111,"y":375,"s":5},
{"x":369,"y":104,"s":0},{"x":371,"y":106,"s":0},{"x":373,"y":106,"s":1},{"x":366,"y":102,"s":2},{"x":367,"y":103,"s":1},{"x":374,"y":110,"s":4},{"x":355,"y":100,"s":5},{"x":358,"y":101,"s":5},{"x":357,"y":103,"s":4},{"x":352,"y":105,"s":6},
{"x":85,"y":110,"s":5},{"x":86,"y":112,"s":3},{"x":87,"y":110,"s":2},{"x":88,"y":110,"s":1},{"x":89,"y":108,"s":0},{"x":90,"y":106,"s":1},{"x":91,"y":106,"s":1},{"x":93,"y":106,"s":0},{"x":104,"y":93,"s":0},{"x":103,"y":92,"s":0},{"x":105,"y":91,"s":0},{"x":106,"y":92,"s":0},{"x":107,"y":90,"s":0},{"x":108,"y":89,"s":0},{"x":110,"y":89,"s":1},
{"x":330,"y":353,"s":0},{"x":332,"y":353,"s":0},{"x":332,"y":357,"s":0},{"x":336,"y":352,"s":3},{"x":328,"y":355,"s":3},{"x":325,"y":352,"s":0},{"x":337,"y":346,"s":0},{"x":336,"y":344,"s":1},{"x":337,"y":347,"s":2},
{"x":353,"y":330,"s":1},{"x":354,"y":328,"s":0},{"x":355,"y":332,"s":0},{"x":353,"y":333,"s":3},{"x":357,"y":328,"s":0},
{"x":370,"y":355,"s":0},{"x":371,"y":353,"s":2},{"x":373,"y":350,"s":3},{"x":376,"y":346,"s":4},{"x":377,"y":347,"s":4},{"x":375,"y":343,"s":3},{"x":379,"y":344,"s":5},
{"x":345,"y":380,"s":5},{"x":345,"y":378,"s":3},{"x":347,"y":376,"s":3},{"x":348,"y":375,"s":2},{"x":350,"y":374,"s":3},{"x":352,"y":373,"s":1},{"x":355,"y":372,"s":4},{"x":345,"y":372,"s":3},
{"x":335,"y":388,"s":4},{"x":333,"y":386,"s":4},{"x":337,"y":386,"s":5},
{"x":234,"y":265,"s":3},{"x":235,"y":262,"s":3},{"x":235,"y":266,"s":1},{"x":238,"y":266,"s":2},{"x":239,"y":267,"s":3},{"x":238,"y":263,"s":3},{"x":233,"y":261,"s":4},{"x":241,"y":265,"s":4},{"x":231,"y":263,"s":5},{"x":230,"y":262,"s":5},
{"x":219,"y":143,"s":3},{"x":221,"y":146,"s":5},{"x":222,"y":148,"s":5},{"x":219,"y":140,"s":4},{"x":215,"y":141,"s":1},
{"x":122,"y":155,"s":1},{"x":125,"y":151,"s":1},{"x":128,"y":160,"s":3}
]},
"mark":{"type":"point","filled":true,"opacity":1,"size":345,"strokeWidth":0},
"encoding":{
"x":{"field":"x","type":"quantitative","scale":{"domain":[-14.8,412.9],"nice":false,"zero":false},"axis":{"values":[0,100,200,300,400],"grid":false,"domain":false,"tickColor":"black","tickWidth":3,"tickSize":9,"labelFont":"Liberation Sans","labelFontWeight":"bold","labelFontSize":60,"labelColor":"black","labelPadding":-2,"title":"residue index","titleFont":"Liberation Sans","titleFontWeight":"bold","titleFontSize":60,"titleColor":"black","titlePadding":12}},
"y":{"field":"y","type":"quantitative","scale":{"domain":[-14.9,412.75],"nice":false,"zero":false},"axis":{"values":[0,100,200,300,400],"grid":false,"domain":false,"tickColor":"black","tickWidth":3,"tickSize":9,"labelFont":"Liberation Sans","labelFontWeight":"bold","labelFontSize":60,"labelColor":"black","labelAngle":-90,"labelAlign":"center","labelBaseline":"bottom","labelPadding":27,"title":"residue index","titleFont":"Liberation Sans","titleFontWeight":"bold","titleFontSize":60,"titleColor":"black","titlePadding":8}},
"color":{"field":"s","type":"quantitative","legend":null,"scale":{"domain":[0,8],"range":["#000000","#808080"]}}
}}
